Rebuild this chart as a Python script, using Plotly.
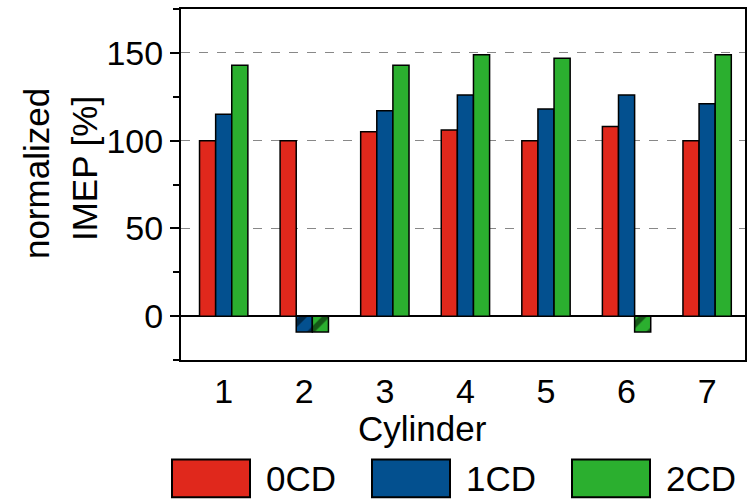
import plotly.graph_objects as go

cylinders = [1, 2, 3, 4, 5, 6, 7]
imep_0cd = [100, 100, 105, 106, 100, 108, 100]
imep_1cd = [115, -9, 117, 126, 118, 126, 121]
imep_2cd = [143, -9, 143, 149, 147, -9, 149]
series_names = ["0CD", "1CD", "2CD"]
series_colors = ["#E0281C", "#03508F", "#2BAF2F"]
y_ticks = [0, 50, 100, 150]

FONT = "Liberation Sans, Arial, sans-serif"
fig = go.Figure()
for name, vals, col in zip(series_names, [imep_0cd, imep_1cd, imep_2cd], series_colors):
    fig.add_trace(go.Bar(
        x=cylinders, y=vals, name=name,
        marker=dict(color=col, line=dict(color="black", width=1.5),
                    pattern=dict(shape=["/" if v < 0 else "" for v in vals],
                                 fgcolor="black", bgcolor=col, size=16, solidity=0.35)),
        showlegend=False,
    ))

fig.update_layout(
    width=755, height=501,
    margin=dict(l=181, r=10, t=7, b=141),
    plot_bgcolor="white", paper_bgcolor="white",
    barmode="group", bargap=0.4, bargroupgap=0,
    font=dict(family=FONT, size=34, color="black"),
)
fig.update_xaxes(
    range=[0.47, 7.47], tickvals=cylinders, ticktext=[str(c) for c in cylinders],
    tickfont=dict(size=34),
    showline=True, linecolor="black", linewidth=2, mirror=True, ticks="",
    showgrid=False, zeroline=False,
)
fig.update_yaxes(
    range=[-25, 175], tickvals=y_ticks, tickfont=dict(size=34),
    showline=True, linecolor="black", linewidth=2, mirror=True,
    ticks="outside", ticklen=9, tickwidth=2, tickcolor="black",
    minor=dict(dtick=25, tick0=0, ticks="outside", ticklen=6, tickwidth=2, tickcolor="black", showgrid=False),
    showgrid=True, gridcolor="#888888", griddash="dash", gridwidth=1,
    zeroline=True, zerolinecolor="black", zerolinewidth=2,
)

pw, ph = 564.0, 353.0
def px_x(x):
    return (x - 181) / pw
def px_y(y):
    return (360 - y) / ph

# axis titles
fig.add_annotation(xref="paper", yref="paper", x=px_x(422), y=px_y(429),
                   text="Cylinder", showarrow=False, xanchor="center", yanchor="middle",
                   font=dict(family=FONT, size=35, color="black"))
fig.add_annotation(xref="paper", yref="paper", x=px_x(36), y=px_y(173),
                   text="normalized", showarrow=False, textangle=-90,
                   xanchor="center", yanchor="middle",
                   font=dict(family=FONT, size=35, color="black"))
fig.add_annotation(xref="paper", yref="paper", x=px_x(84), y=px_y(168),
                   text="IMEP [%]", showarrow=False, textangle=-90,
                   xanchor="center", yanchor="middle",
                   font=dict(family=FONT, size=35, color="black"))

# custom legend with large swatches
for name, col, bx in zip(series_names, series_colors, [172, 372, 572]):
    fig.add_shape(type="rect", xref="paper", yref="paper",
                  x0=px_x(bx), x1=px_x(bx + 78), y0=px_y(498), y1=px_y(460),
                  fillcolor=col, line=dict(color="black", width=2))
    fig.add_annotation(xref="paper", yref="paper", x=px_x(bx + 92), y=px_y(479),
                       text=name, showarrow=False, xanchor="left", yanchor="middle",
                       font=dict(family=FONT, size=35, color="black"))

fig.write_html("out.html")
